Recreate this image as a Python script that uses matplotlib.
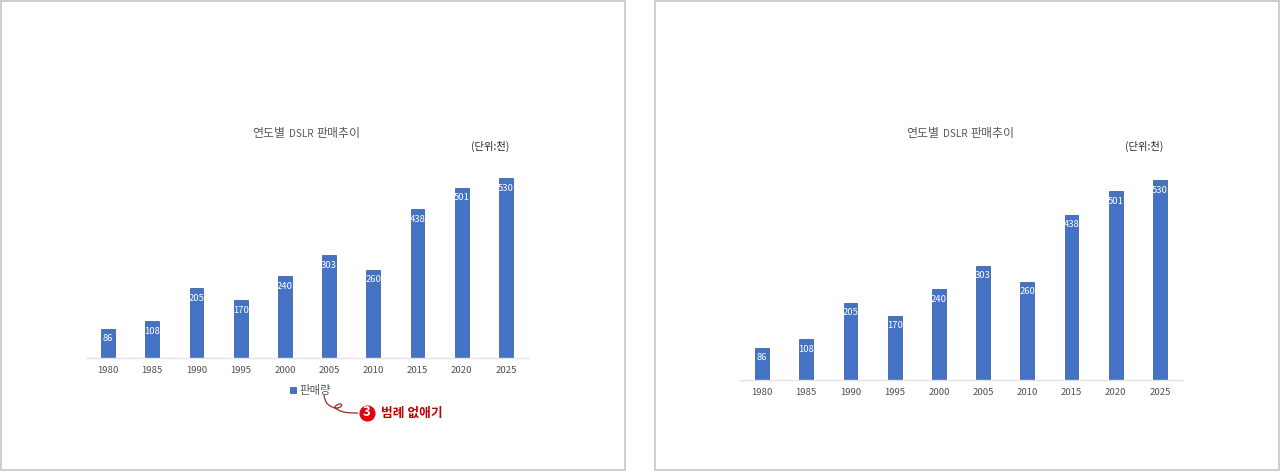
import matplotlib.pyplot as plt
from matplotlib.patches import Rectangle, PathPatch
from matplotlib.path import Path

plt.rcParams['font.family'] = ['Noto Sans CJK KR', 'DejaVu Sans']

years = ['1980', '1985', '1990', '1995', '2000', '2005', '2010', '2015', '2020', '2025']
sales = [86, 108, 205, 170, 240, 303, 260, 438, 501, 530]
series_name = '판매량'
title_parts = ['연도별', 'DSLR', '판매추이']
unit = '(단위:천)'
note = '범례 없애기'

W, H = 1280, 471
BLUE = '#4472c4'
GRAY = '#595959'

fig = plt.figure(figsize=(W / 100, H / 100), dpi=100)
bg = fig.add_axes([0, 0, 1, 1])
bg.set_xlim(0, W)
bg.set_ylim(H, 0)
bg.axis('off')

# the two slide frames
for x0 in [1, 655]:
    bg.add_patch(Rectangle((x0, 0.5), 624, 469.5, fill=False, ec='#c9c9c9', lw=1.3))


def draw_chart(left, right, base, top):
    ax = fig.add_axes([left / W, 1 - base / H, (right - left) / W, (base - top) / H])
    bars = ax.bar(years, sales, width=0.31, color=BLUE, edgecolor='#2f5597', linewidth=0.5, label=series_name)
    ax.bar_label(bars, padding=-10.5, color='white', fontsize=6.8)
    ax.set_xlim(-0.5, 9.5)
    ax.set_ylim(0, 530)
    ax.patch.set_alpha(0)
    for side in ['top', 'left', 'right']:
        ax.spines[side].set_visible(False)
    ax.spines['bottom'].set_color('#e3e3e3')
    ax.spines['bottom'].set_linewidth(1.0)
    ax.set_yticks([])
    ax.tick_params(axis='x', length=0, pad=6, labelsize=6.9, labelcolor='#505050')
    return ax


ax1 = draw_chart(86, 528, 358, 178)
ax2 = draw_chart(740, 1182, 380, 180)

# only the left one still has its legend
ax1.legend(loc='upper center', bbox_to_anchor=(0.508, -0.15), frameon=False, fontsize=8.2,
           labelcolor=GRAY, handlelength=0.48, handleheight=0.48, handletextpad=0.3,
           borderpad=0, borderaxespad=0)

# title pieces, the latin part is set smaller in the original
for dx in [0, 654]:
    bg.text(252.5 + dx, 133, title_parts[0], ha='left', va='center', fontsize=8.6, color=GRAY)
    bg.text(289 + dx, 134, title_parts[1], ha='left', va='center', fontsize=7.2, color=GRAY)
    bg.text(316 + dx, 133, title_parts[2], ha='left', va='center', fontsize=8.6, color=GRAY)
    bg.text(490 + dx, 146, unit, ha='center', va='center', fontsize=7.4, color='#262626')

# red callout under the legend
curve = Path([(324, 395), (325, 403), (329, 407), (336, 408),
              (342, 408), (343, 404), (340, 404),
              (337, 404), (332, 408), (337, 409),
              (342, 413), (350, 413), (358, 413)],
             [Path.MOVETO] + [Path.CURVE4] * 12)
bg.add_patch(PathPatch(curve, fill=False, ec='#a02b2b', lw=0.9))
bg.scatter([367], [413], s=135, color='#e60012', zorder=3, linewidths=0)
bg.text(367, 412.5, '3', ha='center', va='center', color='white', fontsize=9.5, fontweight='bold', zorder=4)
bg.text(381, 413, note, ha='left', va='center', color='#c00000', fontsize=9.2, fontweight='bold')

fig.savefig('out.png', dpi=100)
